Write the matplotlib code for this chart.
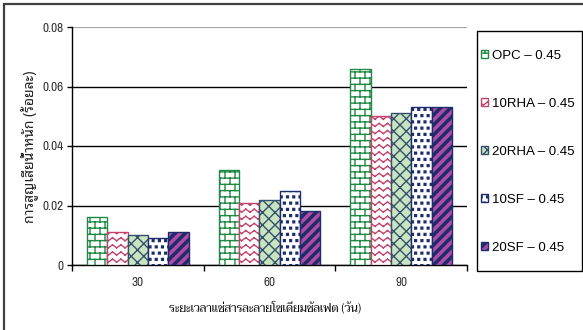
import warnings

import matplotlib
matplotlib.use("Agg")
import matplotlib.hatch as mhatch
import matplotlib.pyplot as plt
import numpy as np
from matplotlib.patches import Rectangle
from matplotlib.path import Path

# single-letter custom hatch codes trigger a deprecation notice in 3.10
warnings.filterwarnings("ignore", category=matplotlib.MatplotlibDeprecationWarning)


days = ["30", "60", "90"]
mixes = ["OPC – 0.45", "10RHA – 0.45", "20RHA – 0.45", "10SF – 0.45", "20SF – 0.45"]
opc = [0.016, 0.032, 0.066]
rha10 = [0.011, 0.021, 0.050]
rha20 = [0.010, 0.022, 0.051]
sf10 = [0.009, 0.025, 0.053]
sf20 = [0.011, 0.018, 0.053]
yticks = [0, 0.02, 0.04, 0.06, 0.08]
ytick_labels = ["0", "0.02", "0.04", "0.06", "0.08"]

faces = ["white", "white", "#c8e5bf", "white", "#b24aa6"]
edges = ["#1f8a45", "#c4446c", "#34506e", "#1d2d6b", "#1d2d6b"]
patterns = ["b", "z", "l", "q", "s"]


# ---- extra fill patterns (brick, zigzag, lattice, dots, stripes) ----
class _SegmentHatch(mhatch.HatchPatternBase):
    key = ""

    def __init__(self, hatch, density):
        self.segs = self.segments() if self.key in hatch else []
        self.num_vertices = 2 * len(self.segs)

    def set_vertices_and_codes(self, vertices, codes):
        for i, (p, q) in enumerate(self.segs):
            vertices[2 * i] = p
            vertices[2 * i + 1] = q
            codes[2 * i] = Path.MOVETO
            codes[2 * i + 1] = Path.LINETO


class _PolyHatch(mhatch.HatchPatternBase):
    key = ""

    def __init__(self, hatch, density):
        self.polys = self.polygons() if self.key in hatch else []
        self.num_vertices = sum(len(p) + 1 for p in self.polys)

    def set_vertices_and_codes(self, vertices, codes):
        k = 0
        for poly in self.polys:
            n = len(poly)
            vertices[k:k + n] = poly
            vertices[k + n] = poly[0]
            codes[k] = Path.MOVETO
            codes[k + 1:k + n] = Path.LINETO
            codes[k + n] = Path.CLOSEPOLY
            k += n + 1


class BrickHatch(_SegmentHatch):
    key = "b"

    def segments(self):
        rows, cols = 16, 10
        segs = []
        for i in range(rows):
            y = (i + 0.5) / rows
            segs.append(((-0.01, y), (1.01, y)))
        for i in range(-1, rows):
            y0, y1 = (i + 0.5) / rows, (i + 1.5) / rows
            off = 0.5 * (i % 2)
            for j in range(cols + 1):
                x = (j + off) / cols
                segs.append(((x, y0), (x, y1)))
        return segs


class ZigzagHatch(_SegmentHatch):
    key = "z"

    def segments(self):
        rows, per = 14, 12
        amp = 0.03
        segs = []
        for i in range(rows):
            y = (i + 0.3) / rows
            for j in range(per):
                x0, xm, x1 = j / per, (j + 0.5) / per, (j + 1) / per
                segs.append(((x0, y), (xm, y + amp)))
                segs.append(((xm, y + amp), (x1, y)))
        return segs


class LatticeHatch(_SegmentHatch):
    key = "l"

    def segments(self):
        n = 8
        segs = []
        for k in range(-n, n + 1):
            c = k / n
            segs.append(((c, 0), (c + 1, 1)))
            segs.append(((c, 1), (c + 1, 0)))
        return segs


class DotHatch(_PolyHatch):
    key = "q"

    def polygons(self):
        n, s = 16, 0.009
        polys = []
        for i in range(n):
            cy = (i + 0.5) / n
            for j in range(n + 1):
                cx = (j + 0.5 * (i % 2)) / n
                polys.append(np.array([[cx - s, cy - s], [cx + s, cy - s],
                                       [cx + s, cy + s], [cx - s, cy + s]]))
        return polys


class StripeHatch(_PolyHatch):
    key = "s"

    def polygons(self):
        n = 10
        w = 0.3 / n
        polys = []
        for k in range(-n - 1, n + 2):
            c = k / n
            polys.append(np.array([[-1, -1 + c], [2, 2 + c],
                                   [2, 2 + c + w], [-1, -1 + c + w]]))
        return polys


mhatch._hatch_types.extend([BrickHatch, ZigzagHatch, LatticeHatch, DotHatch, StripeHatch])
plt.rcParams["hatch.linewidth"] = 1.0


W, H = 583, 330
fig = plt.figure(figsize=(W / 100, H / 100), dpi=100)
ax = fig.add_axes([72 / W, 65 / H, 395 / W, 238 / H])

x = np.arange(len(days))
width = 0.154
series = [opc, rha10, rha20, sf10, sf20]
bars = []
for i, vals in enumerate(series):
    b = ax.bar(x + (i - 2) * width, vals, width, facecolor=faces[i],
               edgecolor=edges[i], hatch=patterns[i], linewidth=1.0, zorder=3)
    bars.append(b)

ax.set_xlim(-0.5, 2.5)
ax.set_ylim(0, 0.08)
ax.set_axisbelow(True)

for s in ["top", "right"]:
    ax.spines[s].set_visible(False)
for s in ["left", "bottom"]:
    ax.spines[s].set_color("black")
    ax.spines[s].set_linewidth(1.0)

ax.set_yticks(yticks)
ax.set_yticklabels(ytick_labels, family="Archivo Narrow", fontsize=9.5, color="#333333")
ax.tick_params(axis="y", direction="out", length=3.5, width=1, pad=2.5)
ax.yaxis.grid(True, color="black", linewidth=1.0)
ax.get_ygridlines()[-1].set_color("#a6a6a6")
ax.get_ygridlines()[-1].set_linewidth(1.6)

# category ticks sit between groups, labels centred under them
ax.set_xticks(np.arange(-0.5, len(days), 1.0))
ax.set_xticklabels([])
ax.set_xticks(x, minor=True)
ax.set_xticklabels(days, minor=True, family="Archivo Narrow", fontsize=9.5, color="#333333")
ax.tick_params(axis="x", which="major", direction="out", length=4, width=1)
ax.tick_params(axis="x", which="minor", length=0, pad=9)

fig.text(265 / W, 1 - 307 / H, "ระยะเวลาแช่สารละลายโซเดียมซัลเฟต (วัน)",
         family=["Taviraj", "DejaVu Sans"], fontsize=8.2, ha="center", va="center")
fig.text(30 / W, 1 - 147 / H, "การสูญเสียน้ำหนัก (ร้อยละ)",
         family=["Noto Sans Thai Looped", "DejaVu Sans"], fontsize=10,
         rotation=90, ha="center", va="center", color="#222222")

# legend box and outer chart border
fig.patches.append(Rectangle((477 / W, 1 - 271 / H), 105 / W, 240 / H, transform=fig.transFigure,
                             fill=False, edgecolor="black", linewidth=1.0))
fig.patches.append(Rectangle((4 / W, -0.2), 2, 1.2 - 4 / H, transform=fig.transFigure,
                             fill=False, edgecolor="#404040", linewidth=1.6))

fig.legend(bars, mixes, loc="upper left", bbox_to_anchor=(481 / W, 1 - 50 / H),
           frameon=False, borderpad=0, borderaxespad=0, handlelength=0.55,
           handleheight=0.55, handletextpad=0.3, labelspacing=2.72,
           prop={"family": "Liberation Sans", "size": 9.5})

fig.savefig("out.png", dpi=100)
